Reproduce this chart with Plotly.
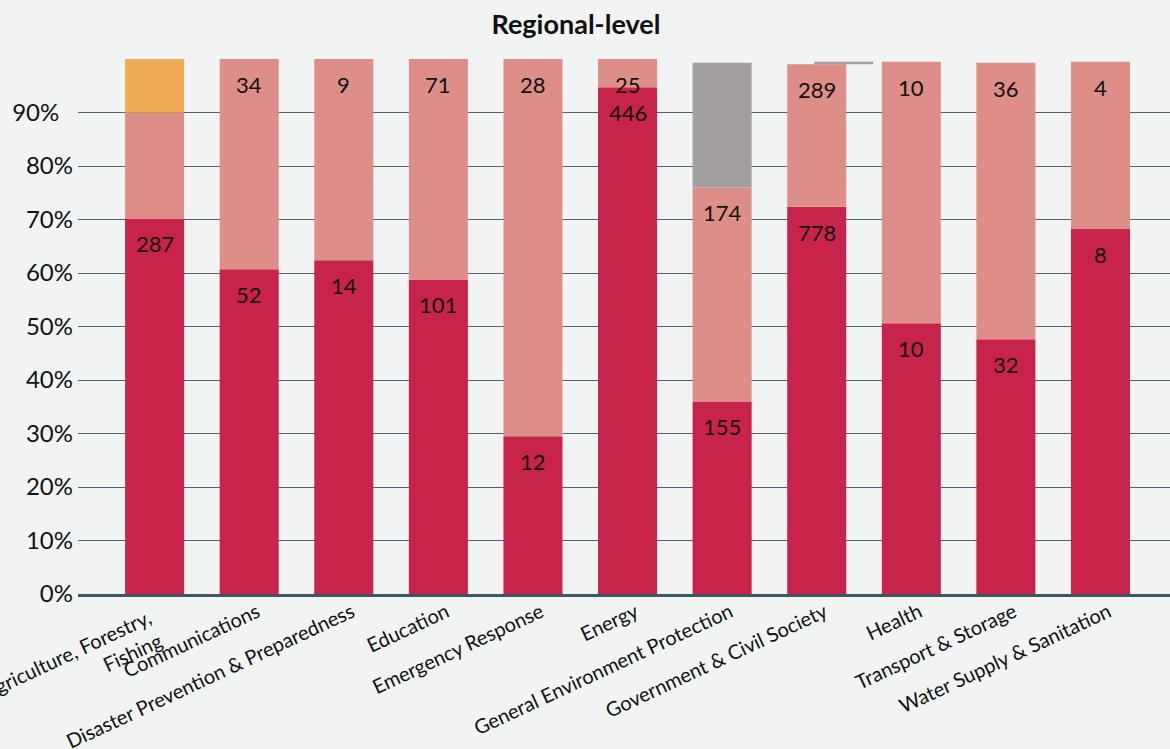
import numpy as np
import plotly.graph_objects as go

categories = ["Agriculture, Forestry,\u00a0\u00a0\u00a0<br>Fishing\u00a0\u00a0\u00a0", "Communications",
              "Disaster Prevention & Preparedness", "Education",
              "Emergency Response", "Energy", "General Environment Protection",
              "Government & Civil Society", "Health", "Transport & Storage",
              "Water Supply & Sanitation"]

dark_pct = [70.2, 60.7, 62.4, 58.8, 29.5, 94.7, 36.0, 72.4, 50.6, 47.6, 68.3]
pink_pct = [19.8, 39.3, 37.6, 41.2, 70.5, 5.3, 40.0, 26.6, 48.9, 51.7, 31.2]
orange_pct = [10.0, 0, 0, 0, 0, 0, 0, 0, 0, 0, 0]
gray_pct = [0, 0, 0, 0, 0, 0, 23.3, 0.5, 0, 0, 0]

dark_counts = [287, 52, 14, 101, 12, 446, 155, 778, 10, 32, 8]
pink_counts = [None, 34, 9, 71, 28, 25, 174, 289, 10, 36, 4]

ytick_vals = [0, 10, 20, 30, 40, 50, 60, 70, 80, 90]
ytick_text = ["0%", "10%", "20%", "30%", "40%", "50%", "60%", "70%", "80%",
              "90%\u00a0\u00a0\u200a"]

FONT = "Lato"
BG = "#f2f4f3"
BAR_W = 0.624

dark = np.array(dark_pct)
pink = np.array(pink_pct)
orange = np.array(orange_pct)
gray = np.array(gray_pct)

base_dark = np.zeros(len(categories))
base_pink = base_dark + dark
base_top = base_pink + pink

gray_offset = [-BAR_W / 2] * len(categories)
gray_offset[7] = -BAR_W / 2 + 0.285

fig = go.Figure()
fig.add_trace(go.Bar(x=categories, y=dark, base=base_dark, marker_color="#c8234a",
                     width=BAR_W, marker_line_width=0, name="dark"))
fig.add_trace(go.Bar(x=categories, y=pink, base=base_pink, marker_color="#de8e89",
                     width=BAR_W, marker_line_width=0, name="pink"))
fig.add_trace(go.Bar(x=categories, y=orange, base=base_top, marker_color="#efab55",
                     width=BAR_W, marker_line_width=0, name="orange"))
fig.add_trace(go.Bar(x=categories, y=gray, base=base_top, marker_color="#a39f9f",
                     width=BAR_W, offset=gray_offset, marker_line_width=0, name="gray"))

annotations = []
for i, c in enumerate(categories):
    if dark_counts[i] is not None:
        annotations.append(dict(x=c, y=base_pink[i], text=str(dark_counts[i]),
                                showarrow=False, yanchor="top", yshift=-10,
                                font=dict(family=FONT, size=22, color="#111111")))
    if pink_counts[i] is not None:
        annotations.append(dict(x=c, y=base_top[i], text=str(pink_counts[i]),
                                showarrow=False, yanchor="top", yshift=-10,
                                font=dict(family=FONT, size=22, color="#111111")))

fig.update_layout(
    width=1170, height=749,
    margin=dict(l=78, r=0, t=59, b=155),
    paper_bgcolor=BG, plot_bgcolor=BG,
    barmode="overlay", showlegend=False,
    title=dict(text="<b>Regional-level</b>", x=0.456, xref="paper", xanchor="center",
               y=1 - 25 / 749, yref="container", yanchor="middle",
               font=dict(family=FONT, size=27, color="#111111")),
    annotations=annotations,
    font=dict(family=FONT, color="#111111"),
)
fig.update_xaxes(type="category", range=[-0.81, 10.735], tickangle=-25,
                 tickfont=dict(family=FONT, size=20, color="#111111"),
                 showline=True, linecolor="#3e5563", linewidth=3,
                 showgrid=False, ticks="", fixedrange=True, automargin=False,
                 ticklabelshift=8, ticklabelstandoff=-4)
fig.update_yaxes(range=[0, 100], tickvals=ytick_vals, ticktext=ytick_text,
                 tickfont=dict(family=FONT, size=24, color="#111111"),
                 showgrid=True, gridcolor="#4f6473", gridwidth=1.3,
                 zeroline=False, ticks="", ticklabelstandoff=4, fixedrange=True,
                 automargin=False)

fig.write_html("out.html")
